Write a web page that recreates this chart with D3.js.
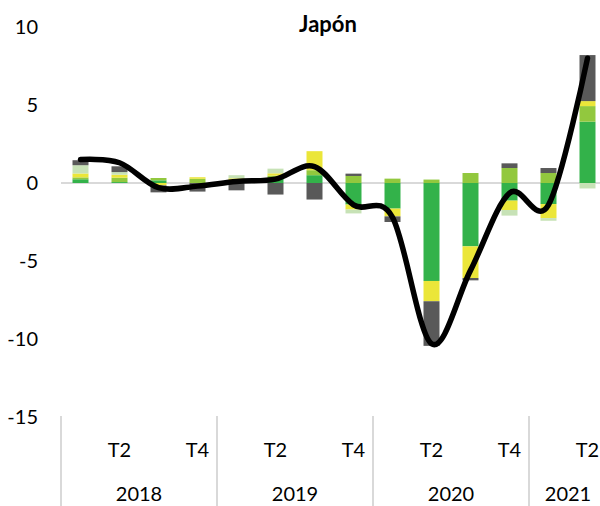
<!DOCTYPE html>
<html>
<head>
<meta charset="utf-8">
<script src="https://cdn.jsdelivr.net/npm/d3@7"></script>
<style>
  body { margin: 0; background: #fff; }
  svg { font-family: Lato, "Noto Sans", sans-serif; }
</style>
</head>
<body>
<svg width="600" height="506"></svg>
<script>
// quarters 2018 T1 .. 2021 T2
const years = ["2018", "2019", "2020", "2021"];
const quarters = ["T1", "T2", "T3", "T4", "T1", "T2", "T3", "T4", "T1", "T2", "T3", "T4", "T1", "T2"];
const quarterYear = ["2018", "2018", "2018", "2018", "2019", "2019", "2019", "2019", "2020", "2020", "2020", "2020", "2021", "2021"];
const shownQuarters = ["T2", "T4"];
const yTicks = [-15, -10, -5, 0, 5, 10];

// contributions (stack order from zero outward)
const verde    = [0.24, 0.06, 0.17, 0, 0.08, 0.27, 0.5, -1.38, -1.64, -6.28, -4.06, -1.13, -1.35, 3.93];
const lima     = [0.12, 0.28, 0.15, 0.27, 0.1, 0.2, 0.32, 0.45, 0.28, 0.22, 0.64, 0.96, 0.64, 1.0];
const amarillo = [0.25, 0.19, -0.15, 0.1, 0.12, 0.15, 1.22, -0.32, -0.5, -1.3, -2.03, -0.6, -0.9, 0.32];
const palido   = [0.53, 0.17, 0, 0, 0.2, 0.3, 0, -0.25, 0, 0, 0, -0.36, -0.17, -0.35];
const gris     = [0.32, 0.37, -0.45, -0.55, -0.47, -0.74, -1.06, 0.15, -0.36, -2.86, -0.15, 0.3, 0.32, 2.95];
// total (line)
const total    = [1.5, 1.3, -0.3, -0.2, 0.1, 0.25, 1.05, -1.4, -2.2, -10.3, -5.6, -0.65, -1.4, 8.0];

const series = [
  { key: "verde", values: verde, color: "#33b24a" },
  { key: "lima", values: lima, color: "#92c83e" },
  { key: "amarillo", values: amarillo, color: "#ebe639" },
  { key: "palido", values: palido, color: "#c7e2b6" },
  { key: "gris", values: gris, color: "#595959" }
];

const rows = quarters.map((q, i) => {
  const r = { id: i };
  series.forEach(s => r[s.key] = s.values[i]);
  return r;
});

const svg = d3.select("svg");

const x = d3.scaleBand()
  .domain(d3.range(quarters.length))
  .range([61, 607])
  .paddingInner(0.59)
  .paddingOuter(0.295);

const y = d3.scaleLinear().domain([-15, 10]).range([417, 27]);

const stack = d3.stack()
  .keys(series.map(s => s.key))
  .offset(d3.stackOffsetDiverging);
const layers = stack(rows);

// zero line
svg.append("line")
  .attr("x1", 61).attr("x2", 600)
  .attr("y1", y(0)).attr("y2", y(0))
  .attr("stroke", "#d9d9d9").attr("stroke-width", 2);

svg.selectAll("g.layer")
  .data(layers)
  .enter().append("g")
  .attr("class", "layer")
  .attr("fill", (d, i) => series[i].color)
  .selectAll("rect")
  .data(d => d)
  .enter().append("rect")
  .attr("x", d => x(d.data.id))
  .attr("width", x.bandwidth())
  .attr("y", d => y(Math.max(d[0], d[1])))
  .attr("height", d => Math.abs(y(d[0]) - y(d[1])));

// total line
const line = d3.line()
  .x((d, i) => x(i) + x.bandwidth() / 2)
  .y(d => y(d))
  .curve(d3.curveCatmullRom.alpha(0));

svg.append("path")
  .datum(total)
  .attr("d", line)
  .attr("fill", "none")
  .attr("stroke", "#000")
  .attr("stroke-width", 5.5)
  .attr("stroke-linecap", "round")
  .attr("stroke-linejoin", "round");

// y labels
svg.selectAll("text.ytick")
  .data(yTicks)
  .enter().append("text")
  .attr("class", "ytick")
  .attr("x", 38)
  .attr("y", d => y(d))
  .attr("dy", "0.35em")
  .attr("text-anchor", "end")
  .attr("font-size", 20)
  .attr("fill", "#000")
  .text(d => d);

// title
svg.append("text")
  .attr("x", 328).attr("y", 32)
  .attr("text-anchor", "middle")
  .attr("font-size", 22)
  .attr("font-weight", "bold")
  .text("Japón");

// category axis: quarter labels
svg.selectAll("text.q")
  .data(quarters.map((q, i) => ({ q, i })).filter(d => shownQuarters.includes(d.q)))
  .enter().append("text")
  .attr("class", "q")
  .attr("x", d => x(d.i) + x.bandwidth() / 2)
  .attr("y", 457)
  .attr("text-anchor", "middle")
  .attr("font-size", 20)
  .text(d => d.q);

// year groups
const groups = years.map(yr => {
  const idx = quarterYear.map((v, i) => v === yr ? i : -1).filter(i => i >= 0);
  const x0 = x(idx[0]) - x.step() * x.paddingInner() / 2;
  const x1 = x(idx[idx.length - 1]) + x.bandwidth() + x.step() * x.paddingInner() / 2;
  return { yr, x0, x1 };
});

svg.selectAll("line.sep")
  .data(groups)
  .enter().append("line")
  .attr("class", "sep")
  .attr("x1", d => d.x0).attr("x2", d => d.x0)
  .attr("y1", 416).attr("y2", 506)
  .attr("stroke", "#d9d9d9").attr("stroke-width", 2);

svg.selectAll("text.yr")
  .data(groups)
  .enter().append("text")
  .attr("class", "yr")
  .attr("x", d => (d.x0 + d.x1) / 2)
  .attr("y", 501)
  .attr("text-anchor", "middle")
  .attr("font-size", 20)
  .text(d => d.yr);
</script>
</body>
</html>
